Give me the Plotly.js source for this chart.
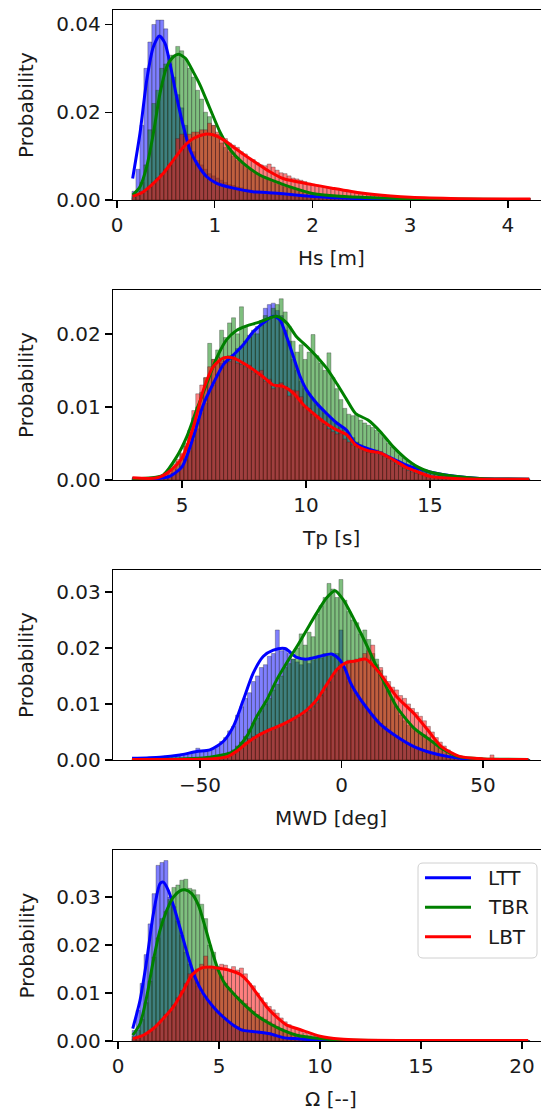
<!DOCTYPE html>
<html>
<head>
<meta charset="utf-8">
<script src="https://cdn.plot.ly/plotly-3.0.1.min.js"></script>
<style>html,body{margin:0;padding:0;background:#fff;}#chart{width:541px;height:1116px;}</style>
</head>
<body>
<div id="chart"></div>
<script>
// ---------- series names / colours ----------
const seriesNames = ['LTT', 'TBR', 'LBT'];
const seriesColors = ['#0000ff', '#008000', '#ff0000'];
const barColors = ['rgba(0,0,255,0.5)', 'rgba(0,128,0,0.5)', 'rgba(255,0,0,0.5)'];

// ---------- axis labels / ticks ----------
const xTitles = ['Hs [m]', 'Tp [s]', 'MWD [deg]', 'Ω [--]'];
const xTicks = [[0, 1, 2, 3, 4], [5, 10, 15], [-50, 0, 50], [0, 5, 10, 15, 20]];
const yTicks = [[0, 0.02, 0.04], [0, 0.01, 0.02], [0, 0.01, 0.02, 0.03], [0, 0.01, 0.02, 0.03]];

// ---------- histogram bins (100 bins each) ----------
const hsBinStart = 0.153, hsBinWidth = 0.0407;
const tpBinStart = 2.99, tpBinWidth = 0.1603;
const mwdBinStart = -73.96, mwdBinWidth = 1.405;
const omBinStart = 0.70, omBinWidth = 0.1968;

// ---------- Hs probabilities ----------
const hsLTT = [0.002,0.007,0.017,0.030,0.036,0.040,0.041,0.041,0.039,0.031,
  0.028,0.024,0.021,0.017,0.013,0.011,0.009,0.008,0.007,0.006,
  0.0055,0.005,0.0045,0.004,0.0035,0.0033,0.003,0.0028,0.0025,0.0023,
  0.002,0.002,0.0018,0.0017,0.0015,0.0014,0.0012,0.0011,0.001,0.0009,
  0.0008,0.0007,0.0006,0.0006,0.0005,0.0005,0.0004,0.0004,0.0003,0.0003,
  0.0003,0.0002,0.0002,0.0002,0.0002,0.0001,0.0001,0.0001,0.0001,0.0001,
  0.0001,0.0001,0.0001,0,0.0001,0,0,0.0001,0,0,
  0.0001,0,0,0,0.0001,0,0,0,0,0,
  0,0.0001,0,0,0,0,0,0,0,0,
  0,0,0,0,0,0,0,0,0,0.0001];
const hsTBR = [0.001,0.002,0.004,0.008,0.016,0.022,0.025,0.030,0.031,0.033,
  0.033,0.035,0.034,0.032,0.030,0.028,0.025,0.023,0.020,0.019,
  0.017,0.015,0.013,0.012,0.011,0.010,0.009,0.0085,0.008,0.007,
  0.0065,0.006,0.0055,0.005,0.0045,0.004,0.0037,0.0033,0.003,0.0027,
  0.0025,0.0022,0.002,0.0018,0.0016,0.0015,0.0013,0.0012,0.001,0.001,
  0.0009,0.0008,0.0007,0.0007,0.0006,0.0005,0.0005,0.0004,0.0004,0.0003,
  0.0003,0.0003,0.0002,0.0002,0.0002,0.0002,0.0001,0.0001,0.0001,0.0001,
  0.0001,0.0001,0,0.0001,0,0,0.0001,0,0,0,
  0,0,0.0001,0,0,0,0,0,0,0,
  0,0,0,0,0,0,0,0,0,0];
const hsLBT = [0.0005,0.001,0.0015,0.002,0.003,0.004,0.005,0.006,0.007,0.008,
  0.009,0.014,0.015,0.0145,0.015,0.0155,0.0155,0.016,0.016,0.0175,
  0.017,0.0155,0.0145,0.014,0.013,0.0125,0.012,0.011,0.0105,0.0095,
  0.0092,0.0085,0.008,0.0078,0.0082,0.0075,0.0068,0.0062,0.006,0.0055,
  0.005,0.0048,0.0045,0.0042,0.0038,0.0036,0.0034,0.0032,0.0029,0.0027,
  0.0027,0.0024,0.0022,0.002,0.0019,0.0017,0.0016,0.0014,0.0013,0.0012,
  0.0011,0.001,0.0009,0.0009,0.0008,0.0008,0.0007,0.0008,0.0006,0.0006,
  0.0005,0.0005,0.0004,0.0004,0.0004,0.0003,0.0003,0.0003,0.0003,0.0002,
  0.0002,0.0002,0.0002,0.0002,0.0001,0.0001,0.0001,0.0002,0.0001,0.0001,
  0.0001,0.0001,0.0001,0.0001,0.0001,0.0001,0.0001,0.0001,0.0001,0.0001];

// ---------- Tp probabilities ----------
const tpLTT = [0.0002,0.0002,0.0002,0.0002,0.0002,0.0002,0.0003,0.0003,0.0004,0.0006,
  0.0009,0.0013,0.0019,0.0028,0.004,0.0055,0.007,0.0092,0.0105,0.012,
  0.013,0.0145,0.016,0.0162,0.017,0.0172,0.018,0.0183,0.019,0.0198,
  0.020,0.021,0.0215,0.0235,0.024,0.0242,0.0232,0.0225,0.0205,0.019,
  0.0165,0.015,0.0135,0.0125,0.0118,0.011,0.0103,0.0098,0.0092,0.0087,
  0.0082,0.0078,0.0072,0.0068,0.0063,0.0058,0.0052,0.0048,0.0045,0.0042,
  0.004,0.0038,0.0036,0.0033,0.003,0.0028,0.0025,0.0022,0.002,0.0018,
  0.0016,0.0014,0.0012,0.0011,0.001,0.0009,0.0008,0.0007,0.0006,0.0005,
  0.0005,0.0004,0.0004,0.0003,0.0003,0.0003,0.0002,0.0002,0.0002,0.0002,
  0.0001,0.0001,0.0001,0.0001,0.0001,0.0001,0.0001,0.0001,0.0001,0.0001];
const tpTBR = [0.0001,0.0001,0.0001,0.0001,0.0002,0.0002,0.0003,0.0004,0.0006,0.0009,
  0.0015,0.0025,0.0035,0.005,0.0065,0.0085,0.010,0.012,0.014,0.0187,
  0.0165,0.0178,0.0205,0.0195,0.0215,0.0222,0.020,0.0237,0.021,0.0195,
  0.0205,0.020,0.0218,0.0225,0.022,0.0235,0.024,0.0248,0.023,0.021,
  0.019,0.0175,0.0185,0.0165,0.0175,0.0199,0.017,0.016,0.015,0.0174,
  0.014,0.0125,0.011,0.0098,0.009,0.0088,0.009,0.0082,0.0078,0.0075,
  0.0072,0.0068,0.0064,0.0058,0.005,0.0045,0.004,0.0034,0.003,0.0026,
  0.0022,0.0019,0.0016,0.0013,0.0011,0.0009,0.0008,0.0007,0.0006,0.0005,
  0.0004,0.0003,0.0003,0.0002,0.0002,0.0002,0.0001,0.0001,0.0001,0.0001,
  0.0001,0.0001,0.0001,0.0001,0.0001,0.0001,0.0001,0.0001,0.0001,0.0001];
const tpLBT = [0.0003,0.0002,0.0002,0.0002,0.0002,0.0003,0.0004,0.0006,0.001,0.0016,
  0.0022,0.0028,0.0037,0.0046,0.0068,0.0095,0.0118,0.013,0.014,0.0155,
  0.0165,0.0168,0.0163,0.0167,0.0162,0.0165,0.016,0.0158,0.0155,0.0157,
  0.0148,0.0145,0.015,0.0135,0.0138,0.0125,0.013,0.0133,0.0128,0.0115,
  0.0123,0.0122,0.0114,0.010,0.0098,0.009,0.0088,0.0082,0.0076,0.007,
  0.0066,0.0063,0.0064,0.0056,0.0052,0.0048,0.0046,0.0043,0.004,0.0038,
  0.0037,0.0041,0.0039,0.0033,0.003,0.0026,0.0022,0.0019,0.0016,0.0013,
  0.0011,0.0009,0.0008,0.0006,0.0005,0.0004,0.0003,0.0003,0.0002,0.0002,
  0.0002,0.0001,0.0001,0.0001,0.0001,0.0001,0.0001,0.0001,0.0001,0.0001,
  0.0001,0.0001,0.0001,0.0001,0.0001,0.0001,0.0001,0.0001,0.0001,0.0001];

// ---------- MWD probabilities ----------
const mwdLTT = [0.0003,0.0003,0.0004,0.0004,0.0005,0.0005,0.0006,0.0006,0.0007,0.0008,
  0.0008,0.0009,0.001,0.0011,0.0012,0.0013,0.0021,0.0016,0.0015,0.0017,
  0.002,0.0025,0.0033,0.004,0.0052,0.006,0.008,0.0095,0.011,0.012,
  0.014,0.015,0.0165,0.017,0.0185,0.019,0.0232,0.0195,0.020,0.019,
  0.018,0.0175,0.017,0.018,0.0172,0.0178,0.0185,0.0182,0.019,0.0185,
  0.0185,0.019,0.0232,0.016,0.014,0.0125,0.0115,0.0105,0.0095,0.0088,
  0.008,0.0072,0.0065,0.006,0.0053,0.0047,0.0042,0.0037,0.0032,0.0028,
  0.0024,0.0021,0.0018,0.0016,0.0014,0.0012,0.001,0.0009,0.0007,0.0006,
  0.0005,0.0004,0.0003,0.0003,0.0002,0.0002,0.0001,0.0001,0.0001,0.0001,
  0.0001,0,0.0001,0,0,0.0001,0,0,0,0.0001];
const mwdTBR = [0.0001,0.0001,0,0.0001,0,0.0001,0.0001,0,0.0001,0.0001,
  0.0001,0.0001,0.0001,0.0001,0.0001,0.0001,0.0002,0.0003,0.0003,0.0004,
  0.0005,0.0006,0.0008,0.001,0.0014,0.0018,0.0025,0.0032,0.0042,0.0055,
  0.0065,0.0075,0.0088,0.010,0.011,0.0125,0.0135,0.015,0.0165,0.0172,
  0.018,0.020,0.0225,0.0205,0.0228,0.022,0.026,0.0275,0.029,0.0315,
  0.0305,0.029,0.0322,0.0285,0.0265,0.025,0.0245,0.0225,0.0232,0.0215,
  0.019,0.018,0.016,0.014,0.0125,0.0108,0.0095,0.008,0.007,0.0062,
  0.0058,0.0052,0.0048,0.0045,0.004,0.0035,0.003,0.0024,0.0018,0.0013,
  0.0009,0.0007,0.0005,0.0004,0.0003,0.0002,0.0001,0.0001,0.0001,0.0001,
  0.0002,0.0001,0.0001,0,0,0.0001,0,0,0,0.0001];
const mwdLBT = [0.0001,0.0001,0.0001,0.0001,0.0001,0.0001,0.0001,0.0001,0.0001,0.0001,
  0.0001,0.0001,0.0001,0.0001,0.0001,0.0001,0.0001,0.0001,0.0002,0.0002,
  0.0003,0.0003,0.0004,0.0005,0.0008,0.0012,0.0018,0.0025,0.0032,0.0038,
  0.0042,0.0045,0.0048,0.0052,0.0055,0.0057,0.006,0.0062,0.0065,0.0068,
  0.0072,0.0076,0.008,0.0085,0.0088,0.0095,0.0102,0.0115,0.0125,0.0138,
  0.015,0.016,0.0168,0.0172,0.0178,0.0175,0.018,0.0182,0.019,0.0195,
  0.0205,0.017,0.0165,0.015,0.014,0.013,0.0125,0.0115,0.011,0.010,
  0.0092,0.0085,0.0078,0.007,0.006,0.005,0.004,0.0032,0.0025,0.0018,
  0.0012,0.0009,0.0006,0.0004,0.0003,0.0002,0.0002,0.0001,0.0001,0.0001,
  0.0009,0.0002,0.0001,0.0001,0.0001,0.0001,0.0001,0.0001,0.0001,0.0001];

// ---------- Omega probabilities ----------
const omLTT = [0.0022,0.0064,0.012,0.018,0.0244,0.0307,0.0366,0.0372,0.0376,0.030,
  0.028,0.025,0.022,0.0185,0.016,0.0135,0.0115,0.010,0.0088,0.0078,
  0.007,0.0062,0.0055,0.0048,0.004,0.0034,0.003,0.0026,0.0023,0.0021,
  0.002,0.0019,0.0019,0.0018,0.0017,0.0015,0.0012,0.001,0.0008,0.0006,
  0.0005,0.0004,0.0004,0.0003,0.0003,0.0002,0.0002,0.0001,0.0001,0.0001,
  0.0001,0.0001,0.0001,0.0001,0.0001,0.0001,0.0001,0.0001,0.0001,0.0001,
  0.0001,0,0.0001,0,0.0001,0,0.0001,0,0.0001,0,
  0.0001,0,0.0001,0,0.0001,0,0,0.0001,0,0,
  0.0001,0,0,0.0001,0,0,0.0001,0,0,0,
  0.0001,0,0,0,0.0001,0,0,0,0,0.0001];
const omTBR = [0.001,0.0022,0.0045,0.008,0.0125,0.0175,0.0215,0.0255,0.027,0.0295,
  0.032,0.0325,0.0335,0.0337,0.0318,0.0315,0.0305,0.0285,0.0255,0.020,
  0.0185,0.0155,0.0135,0.012,0.011,0.010,0.0092,0.0085,0.0078,0.007,
  0.0062,0.0055,0.005,0.0045,0.004,0.0035,0.003,0.0026,0.0022,0.0018,
  0.0015,0.0012,0.001,0.0008,0.0007,0.0006,0.0005,0.0004,0.0003,0.0003,
  0.0002,0.0001,0.0001,0.0001,0.0001,0.0001,0.0001,0.0001,0.0001,0.0001,
  0.0001,0.0001,0,0.0001,0,0.0001,0,0,0.0001,0,
  0,0.0001,0,0,0,0.0001,0,0,0,0,
  0,0,0.0001,0,0,0,0,0,0.0001,0,
  0,0,0,0,0,0.0001,0,0,0,0];
const omLBT = [0.0004,0.0007,0.001,0.0014,0.002,0.0027,0.0035,0.0045,0.0055,0.0062,
  0.0075,0.009,0.0105,0.012,0.014,0.0145,0.015,0.016,0.0177,0.0155,
  0.015,0.0148,0.016,0.0158,0.015,0.0155,0.0148,0.0152,0.014,0.012,
  0.0115,0.010,0.009,0.008,0.0072,0.0065,0.0058,0.0048,0.004,0.0034,
  0.0028,0.0024,0.002,0.0016,0.0013,0.0011,0.0009,0.0008,0.0007,0.0006,
  0.0005,0.0004,0.0004,0.0003,0.0003,0.0002,0.0002,0.0002,0.0001,0.0001,
  0.0001,0.0001,0.0001,0.0001,0.0001,0.0001,0.0001,0.0001,0.0001,0.0001,
  0.0001,0,0.0001,0.0001,0,0.0001,0,0.0001,0,0.0001,
  0.0001,0,0,0.0001,0,0,0.0001,0,0,0.0001,
  0,0,0.0001,0,0,0,0,0.0001,0,0.0001];

// ---------- KDE curves ----------
const hsKdeLTTx = [0.16,0.235,0.304,0.372,0.433,0.491,0.542,0.61,0.68,0.747,0.815,0.918,1.02,1.19,1.39,1.6,1.8,2.0,2.5,3.0,3.5,4.23];
const hsKdeLTTy = [0.0049,0.0152,0.0273,0.0349,0.0374,0.0357,0.0311,0.0235,0.0167,0.0114,0.0084,0.0053,0.0038,0.0027,0.0019,0.0016,0.0012,0.0008,0.0003,0.0002,0.0001,0.0001];
const hsKdeTBRx = [0.16,0.235,0.304,0.372,0.44,0.51,0.58,0.63,0.70,0.78,0.85,0.95,1.06,1.16,1.29,1.46,1.67,1.77,2.0,2.5,3.0,3.5,4.23];
const hsKdeTBRy = [0.0011,0.003,0.0076,0.0152,0.0243,0.0304,0.0327,0.0332,0.0323,0.0292,0.0262,0.0209,0.0152,0.0114,0.0084,0.0057,0.0038,0.003,0.0015,0.0006,0.0003,0.0002,0.0001];
const hsKdeLBTx = [0.16,0.27,0.372,0.474,0.577,0.68,0.78,0.90,0.99,1.09,1.19,1.29,1.43,1.56,1.70,2.0,2.2,2.5,2.8,3.0,3.5,4.0,4.23];
const hsKdeLBTy = [0.0008,0.0019,0.0038,0.0061,0.0091,0.0121,0.014,0.015,0.0148,0.0137,0.0121,0.0105,0.0084,0.0065,0.0049,0.0035,0.0027,0.0016,0.0009,0.0006,0.0003,0.0002,0.0002];

const tpKdeLTTx = [3.0,4.0,4.5,5.0,5.46,5.86,6.26,6.67,7.07,7.47,7.88,8.28,8.68,8.95,9.22,9.49,9.76,10.03,10.43,10.83,11.24,11.64,12,13,14,15,16,17,19];
const tpKdeLTTy = [0.0002,0.0002,0.0005,0.0018,0.0059,0.0103,0.0132,0.0158,0.0171,0.0185,0.0203,0.0215,0.0224,0.0219,0.0196,0.0169,0.0142,0.0123,0.0105,0.0091,0.0078,0.0068,0.005,0.0037,0.0021,0.0011,0.0005,0.0002,0.0001];
const tpKdeTBRx = [3.0,4.0,4.25,4.79,5.19,5.59,6.0,6.4,6.8,7.21,7.61,8.01,8.41,8.81,9.22,9.62,10.03,10.43,10.83,11.24,11.64,12,12.5,13,13.5,14,14.5,15,16,17,19];
const tpKdeTBRy = [0.0001,0.0004,0.0007,0.0032,0.0059,0.0096,0.0132,0.0167,0.0192,0.0205,0.0211,0.0215,0.022,0.0224,0.0215,0.0196,0.0183,0.0169,0.0153,0.0132,0.011,0.0091,0.0082,0.0066,0.0046,0.003,0.0018,0.0011,0.0005,0.0002,0.0001];
const tpKdeLBTx = [3.0,4.0,4.5,5.0,5.46,5.86,6.26,6.67,7.07,7.47,7.88,8.28,8.68,9.08,9.49,9.9,10.3,10.7,11.1,11.64,12,12.5,13,13.5,14,14.5,15,16,17,19];
const tpKdeLBTy = [0.0003,0.0003,0.0012,0.0030,0.0073,0.0123,0.0155,0.0167,0.0167,0.016,0.0151,0.0141,0.013,0.0128,0.0119,0.0103,0.0091,0.008,0.0071,0.0062,0.0048,0.004,0.0037,0.0028,0.0018,0.0011,0.0005,0.0002,0.0001,0.0001];

const mwdKdeLTTx = [-74,-64.1,-57.1,-51.2,-46.5,-41.8,-38.2,-34.7,-31.2,-27.6,-24.1,-20.0,-15.8,-12.3,-7.6,-3.5,-0.5,1.5,3.0,4.9,8.6,13.5,19.5,25.6,31.7,37.8,43.9,50,66];
const mwdKdeLTTy = [0.0003,0.0005,0.0009,0.0015,0.0018,0.0033,0.006,0.0107,0.0155,0.0185,0.0196,0.0199,0.0183,0.018,0.0185,0.0189,0.0178,0.016,0.014,0.0122,0.0095,0.0065,0.0042,0.0024,0.0013,0.0006,0.0002,0.0001,0.0001];
const mwdKdeTBRx = [-74,-64.1,-46.5,-38.2,-33.5,-30.0,-26.4,-22.9,-19.4,-15.8,-12.3,-8.8,-5.3,-2.3,0.6,4.2,8.6,13.5,19.5,25.6,30.4,35.3,41.4,50,66];
const mwdKdeTBRy = [0.0001,0.0001,0.0005,0.0015,0.0042,0.0077,0.0107,0.0143,0.0173,0.0202,0.0232,0.0262,0.0289,0.0302,0.0286,0.0253,0.0208,0.0155,0.0095,0.0057,0.0039,0.0021,0.0006,0.0002,0.0001];
const mwdKdeLBTx = [-74,-64.1,-46.5,-40.3,-37.2,-33.5,-30.0,-25.3,-20.6,-15.8,-12.3,-8.8,-5.3,-1.7,1.8,5.3,8.6,13.5,19.5,25.6,30.4,35.3,41.4,50,66];
const mwdKdeLBTy = [0.0001,0.0001,0.0002,0.0006,0.0015,0.003,0.0042,0.0054,0.0064,0.0077,0.0089,0.0107,0.0134,0.0161,0.0174,0.0177,0.018,0.0155,0.0113,0.0083,0.0054,0.0024,0.0007,0.0002,0.0001];

const omKdeLTTx = [0.73,1.09,1.42,1.75,2.08,2.24,2.49,2.82,3.15,3.48,3.81,4.22,4.72,5.21,5.71,6.2,6.87,7.52,8.18,8.68,10,12,15,20.3];
const omKdeLTTy = [0.0026,0.0085,0.0168,0.0265,0.0328,0.0331,0.0314,0.0272,0.0224,0.0175,0.0133,0.0099,0.0071,0.005,0.0033,0.0022,0.0019,0.0015,0.0007,0.0005,0.0002,0.0001,0.0001,0.0001];
const omKdeTBRx = [0.73,1.09,1.42,1.75,2.08,2.41,2.74,3.07,3.32,3.65,3.98,4.31,4.64,4.97,5.3,5.71,6.2,6.87,7.52,8.18,8.85,10,11,15,20.3];
const omKdeTBRy = [0.0012,0.0036,0.0092,0.0168,0.0231,0.0272,0.03,0.0313,0.0315,0.0307,0.0283,0.0238,0.0189,0.0147,0.0119,0.0099,0.0078,0.0053,0.0036,0.0022,0.0012,0.0005,0.0002,0.0001,0.0001];
const omKdeLBTx = [0.73,1.25,1.75,2.24,2.74,3.24,3.65,4.06,4.55,5.05,5.54,6.04,6.45,6.87,7.36,7.85,8.35,9.0,10,11,12,15,20.3];
const omKdeLBTy = [0.0005,0.0012,0.0026,0.0047,0.0071,0.0106,0.0137,0.0151,0.0154,0.0151,0.0147,0.0139,0.0123,0.0099,0.0071,0.005,0.0033,0.0024,0.001,0.0004,0.0002,0.0001,0.0001];

// ---------- assemble ----------
const panels = [
  {bs: hsBinStart, bw: hsBinWidth, hist: [hsLTT, hsTBR, hsLBT],
   kde: [[hsKdeLTTx, hsKdeLTTy], [hsKdeTBRx, hsKdeTBRy], [hsKdeLBTx, hsKdeLBTy]]},
  {bs: tpBinStart, bw: tpBinWidth, hist: [tpLTT, tpTBR, tpLBT],
   kde: [[tpKdeLTTx, tpKdeLTTy], [tpKdeTBRx, tpKdeTBRy], [tpKdeLBTx, tpKdeLBTy]]},
  {bs: mwdBinStart, bw: mwdBinWidth, hist: [mwdLTT, mwdTBR, mwdLBT],
   kde: [[mwdKdeLTTx, mwdKdeLTTy], [mwdKdeTBRx, mwdKdeTBRy], [mwdKdeLBTx, mwdKdeLBTy]]},
  {bs: omBinStart, bw: omBinWidth, hist: [omLTT, omTBR, omLBT],
   kde: [[omKdeLTTx, omKdeLTTy], [omKdeTBRx, omKdeTBRy], [omKdeLBTx, omKdeLBTy]]}
];

// layout geometry (pixels)
const W = 541, H = 1116, ML = 113, MR = 0, MT = 10, MB = 75;
const plotH = H - MT - MB, plotW = W - ML - MR;
const panelTops = [10, 290, 570, 850];
const panelBots = [200, 480, 760, 1041];
const xRanges = [[-0.041, 4.338], [2.218, 19.476], [-80.74, 70.50], [-0.248, 20.94]];
const yRanges = [[0, 0.0433], [0, 0.0260], [0, 0.0339], [0, 0.0398]];
const py = p => (H - MB - p) / plotH;
const px = p => (p - ML) / plotW;

const traces = [];
panels.forEach((P, k) => {
  const xa = k === 0 ? 'x' : 'x' + (k + 1);
  const ya = k === 0 ? 'y' : 'y' + (k + 1);
  P.hist.forEach((vals, s) => {
    traces.push({
      type: 'bar', xaxis: xa, yaxis: ya,
      x: vals.map((_, i) => P.bs + P.bw * (i + 0.5)), y: vals, width: P.bw,
      marker: {color: barColors[s], line: {color: 'rgba(40,40,40,0.55)', width: 0.6}},
      showlegend: false, hoverinfo: 'skip'
    });
  });
});
panels.forEach((P, k) => {
  const xa = k === 0 ? 'x' : 'x' + (k + 1);
  const ya = k === 0 ? 'y' : 'y' + (k + 1);
  P.kde.forEach((c, s) => {
    traces.push({
      type: 'scatter', mode: 'lines', xaxis: xa, yaxis: ya,
      x: c[0], y: c[1], name: seriesNames[s], showlegend: false,
      line: {color: seriesColors[s], width: 3, shape: 'spline', smoothing: 0.7},
      hoverinfo: 'skip'
    });
  });
});

const font = {family: 'DejaVu Sans, sans-serif', size: 20, color: '#1a1a1a'};
const layout = {
  width: W, height: H,
  margin: {l: ML, r: MR, t: MT, b: MB, pad: 0},
  paper_bgcolor: '#fff', plot_bgcolor: '#fff',
  font: font, barmode: 'overlay', bargap: 0,
  showlegend: false,
  annotations: [], shapes: []
};
for (let k = 0; k < 4; k++) {
  const sfx = k === 0 ? '' : String(k + 1);
  const common = {showline: true, linecolor: '#000', linewidth: 1.3, ticks: 'outside',
    ticklen: 7, tickwidth: 1.3, tickcolor: '#000', showgrid: false, zeroline: false,
    tickfont: {family: font.family, size: 20, color: '#1a1a1a'}, fixedrange: true};
  layout['xaxis' + sfx] = Object.assign({}, common, {
    domain: [0, 1], anchor: 'y' + sfx, range: xRanges[k], tickmode: 'array',
    tickvals: xTicks[k], mirror: true, autorange: false
  });
  layout['yaxis' + sfx] = Object.assign({}, common, {
    domain: [py(panelBots[k]), py(panelTops[k])], anchor: 'x' + sfx,
    range: yRanges[k], tickmode: 'array', tickvals: yTicks[k], tickformat: '.2f',
    autorange: false
  });
  layout.annotations.push({
    text: xTitles[k], xref: 'paper', yref: 'paper', x: px(331), y: py(panelBots[k] + 57.5),
    xanchor: 'center', yanchor: 'middle', showarrow: false, font: font
  });
  layout.annotations.push({
    text: 'Probability', xref: 'paper', yref: 'paper', x: px(26),
    y: py((panelTops[k] + panelBots[k]) / 2), textangle: -90,
    xanchor: 'center', yanchor: 'middle', showarrow: false, font: font
  });
}

// ---------- legend (matplotlib style, drawn with shapes + text) ----------
const lgL = 418, lgR = 537, lgT = 863, lgB = 958, rad = 5;
const X = p => px(p), Y = p => py(p);
const rx = rad;
layout.shapes.push({
  type: 'path', xref: 'paper', yref: 'paper',
  path: `M ${X(lgL + rx)} ${Y(lgT)} L ${X(lgR - rx)} ${Y(lgT)} Q ${X(lgR)} ${Y(lgT)} ${X(lgR)} ${Y(lgT + rx)} ` +
        `L ${X(lgR)} ${Y(lgB - rx)} Q ${X(lgR)} ${Y(lgB)} ${X(lgR - rx)} ${Y(lgB)} ` +
        `L ${X(lgL + rx)} ${Y(lgB)} Q ${X(lgL)} ${Y(lgB)} ${X(lgL)} ${Y(lgB - rx)} ` +
        `L ${X(lgL)} ${Y(lgT + rx)} Q ${X(lgL)} ${Y(lgT)} ${X(lgL + rx)} ${Y(lgT)} Z`,
  fillcolor: 'rgba(255,255,255,0.8)', line: {color: '#d0d0d0', width: 1}, layer: 'above'
});
const lgRows = [877.7, 907.2, 936.7];
seriesNames.forEach((nm, s) => {
  layout.shapes.push({type: 'line', xref: 'paper', yref: 'paper', layer: 'above',
    x0: X(425), x1: X(471), y0: Y(lgRows[s]), y1: Y(lgRows[s]),
    line: {color: seriesColors[s], width: 3}});
  layout.annotations.push({text: nm, xref: 'paper', yref: 'paper', x: X(486), y: Y(lgRows[s]),
    xanchor: 'left', yanchor: 'middle', showarrow: false, font: font});
});

Plotly.newPlot('chart', traces, layout, {staticPlot: true, displayModeBar: false});
</script>
</body>
</html>
